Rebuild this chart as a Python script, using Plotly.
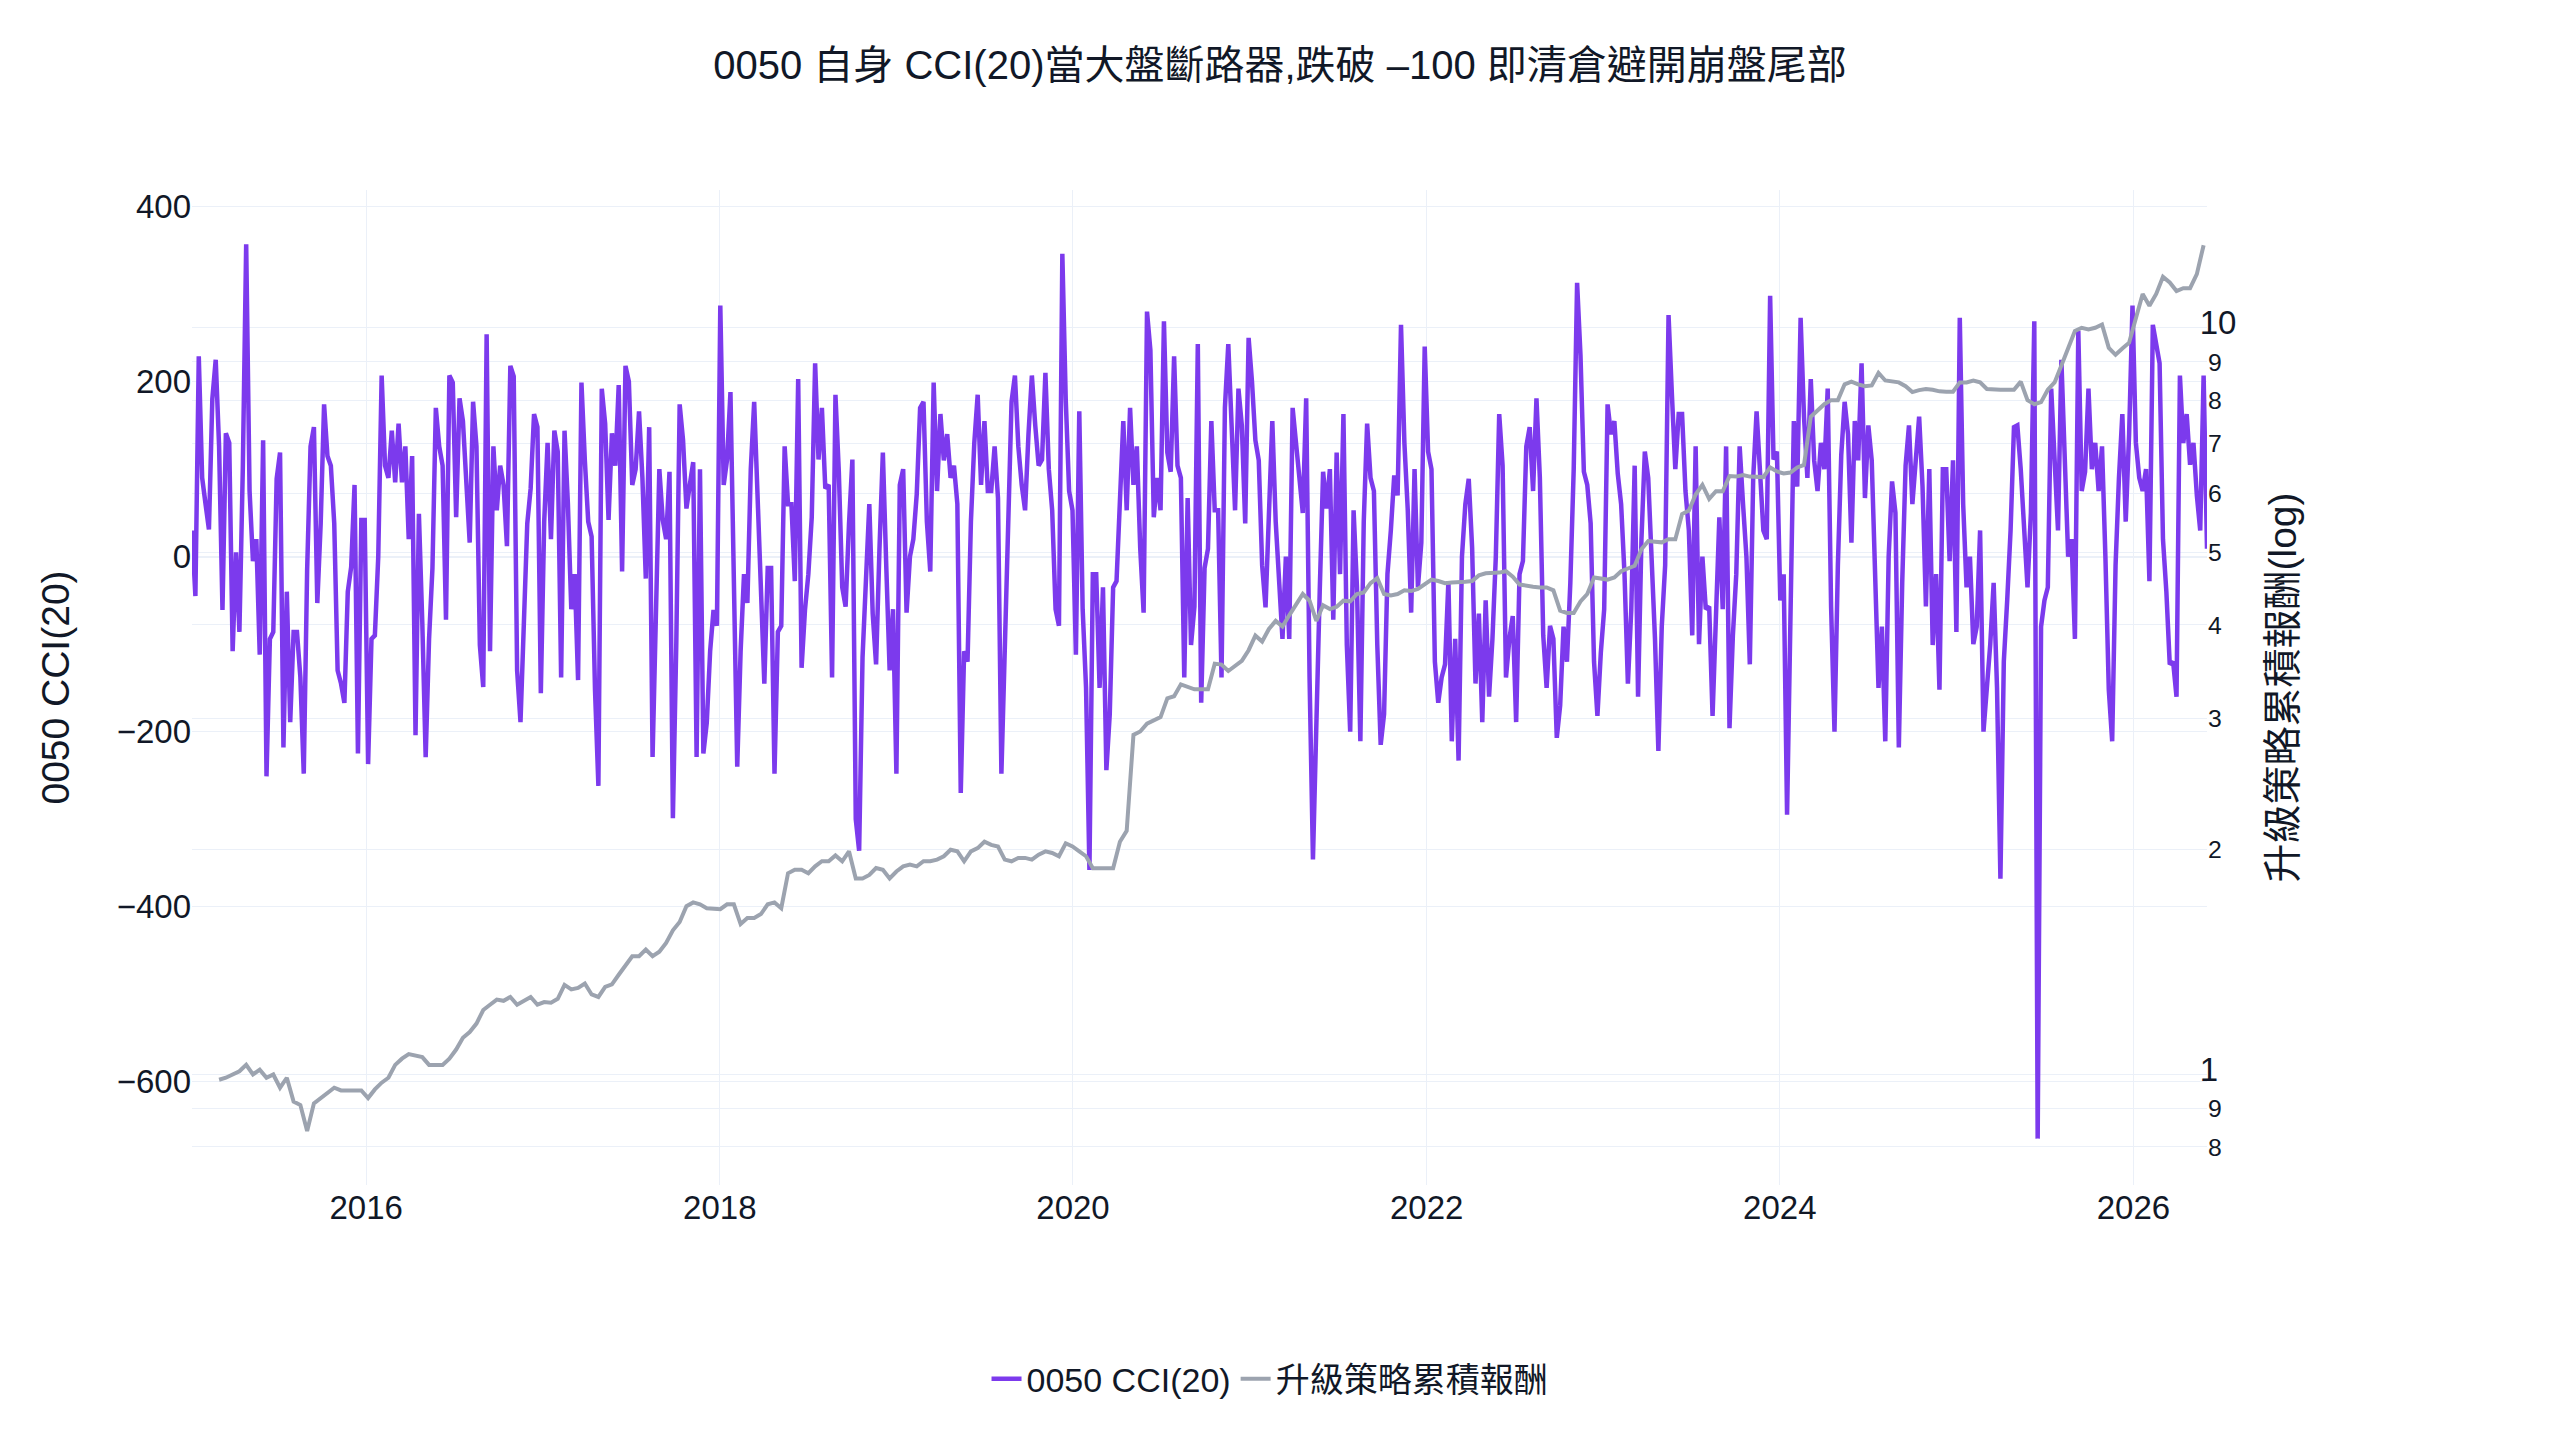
import pandas as pd
import plotly.graph_objects as go

# weekly samples
start_date = "2015-01-06"

cci = [
    30, -45, 229, 90, 60, 31, 180, 225, 126, -61,
    141, 130, -108, 5, -86, 100, 357, 75, -5, 20,
    -112, 133, -251, -94, -86, 89, 119, -218, -40, -189,
    -86, -86, -138, -248, -15, 126, 148, -53, 38, 174,
    115, 104, 38, -130, -145, -167, -40, -12, 82, -225,
    42, 42, -237, -94, -90, 0, 207, 104, 90, 144,
    85, 152, 85, 126, 20, 115, -204, 49, -75, -229,
    -94, -13, 170, 126, 104, -72, 207, 199, 45, 181,
    155, 82, 16, 177, 126, -101, -149, 254, -108, 126,
    53, 104, 82, 12, 218, 206, -130, -189, -65, 38,
    78, 163, 148, -156, 40, 130, 20, 144, 120, -138,
    144, 60, -60, -20, -141, 199, 110, 40, 23, -152,
    -262, 192, 152, 42, 141, 104, 196, -17, 218, 200,
    82, 100, 166, 90, -25, 148, -229, -70, 100, 42,
    20, 97, -299, -100, 174, 133, 55, 82, 108, -229,
    100, -225, -190, -108, -61, -79, 287, 82, 111, 188,
    -13, -240, -108, -20, -53, 100, 177, 75, -57, -145,
    -13, -13, -248, -86, -79, 126, 60, 60, -28, 203,
    -127, -61, -20, 45, 221, 111, 170, 78, 82, -138,
    185, 97, -35, -57, 37, 111, -300, -336, -115, -40,
    60, -65, -123, 9, 119, -10, -130, -60, -248, 82,
    100, -64, 0, 20, 71, 170, 177, 40, -17, 199,
    75, 163, 110, 140, 90, 104, 60, -270, -108, -120,
    40, 130, 185, 82, 155, 75, 75, 126, 67, -248,
    -108, -10, 177, 207, 126, 82, 53, 140, 207, 150,
    104, 111, 210, 100, 53, -60, -79, 346, 180, 75,
    53, -112, 166, -60, -150, -358, -20, -20, -150, -35,
    -244, -180, -35, -28, 78, 155, 53, 170, 82, 126,
    9, -64, 280, 236, 45, 90, 53, 269, 119, 97,
    229, 104, 90, -138, 67, -101, -57, 243, -167, -13,
    9, 155, 53, 53, -138, 170, 243, 133, 53, 192,
    150, 38, 250, 200, 133, 110, -10, -58, 60, 155,
    40, -20, -94, 0, -94, 170, 130, 80, 50, 181,
    -138, -346, -167, -40, 97, 55, 100, -72, 119, -20,
    163, -101, -200, 53, -35, -211, 40, 152, 90, 75,
    -101, -215, -180, -20, 30, 93, 70, 265, 130, 53,
    -64, 100, -35, 16, 240, 120, 100, -120, -167, -138,
    -123, -28, -211, -94, -233, 0, 60, 89, 10, -145,
    -65, -189, -50, -160, -94, 0, 163, 104, -138, -94,
    -68, -189, -20, -5, 126, 148, 75, 181, 90, -90,
    -150, -79, -94, -207, -170, -80, -120, -30, 100, 313,
    230, 97, 82, 38, -120, -182, -110, -60, 174, 140,
    155, 95, 60, -20, -145, -60, 104, -160, 20, 120,
    90, 0, -94, -222, -80, -10, 276, 185, 100, 163,
    163, 75, 30, -90, 126, -100, 0, -60, -57, -182,
    -50, 45, -60, 126, -196, -90, -20, 126, 60, 0,
    -123, 90, 166, 100, 30, 20, 298, 111, 120, -50,
    -20, -295, -40, 155, 80, 273, 160, 90, 203, 110,
    75, 130, 100, 192, -57, -200, -10, 116, 177, 140,
    16, 155, 110, 221, 67, 150, 110, -35, -150, -80,
    -211, 0, 86, 50, -218, -30, 104, 150, 60, 110,
    160, 80, -57, 100, -101, -20, -152, 100, 100, -5,
    110, -86, 273, 60, -35, 0, -100, -80, 30, -200,
    -150, -100, -30, -150, -368, -120, -50, 30, 148, 150,
    100, 30, -35, 50, 269, -665, -80, -50, -35, 192,
    100, 30, 225, 120, 0, 20, -94, 258, 75, 97,
    192, 100, 130, 75, 126, 0, -152, -211, -10, 90,
    163, 40, 140, 287, 130, 90, 75, 100, -28, 265,
    245, 221, 20, -40, -123, -120, -160, 207, 130, 163,
    105, 130, 70, 30, 207, 9,
]

# cumulative return of the strategy, every 2nd week starting at week 8
cum_ret = [
    0.984, 0.99, 1.0, 1.01, 1.03, 1.0, 1.015, 0.99, 1.0, 0.96,
    0.99, 0.92, 0.91, 0.84, 0.915, 0.93, 0.945, 0.96, 0.952, 0.952,
    0.952, 0.952, 0.93, 0.955, 0.975, 0.99, 1.03, 1.05, 1.065, 1.06,
    1.055, 1.03, 1.03, 1.03, 1.05, 1.08, 1.12, 1.14, 1.17, 1.22,
    1.24, 1.26, 1.255, 1.27, 1.24, 1.255, 1.27, 1.24, 1.25, 1.248,
    1.263, 1.318, 1.30, 1.306, 1.324, 1.28, 1.27, 1.31, 1.32, 1.36,
    1.40, 1.44, 1.44, 1.47, 1.44, 1.46, 1.50, 1.56, 1.60, 1.68,
    1.70, 1.69, 1.67, 1.665, 1.665, 1.69, 1.69, 1.59, 1.62, 1.62,
    1.64, 1.69, 1.70, 1.67, 1.86, 1.88, 1.88, 1.86, 1.90, 1.93,
    1.93, 1.965, 1.93, 1.99, 1.83, 1.83, 1.85, 1.89, 1.88, 1.83,
    1.87, 1.90, 1.91, 1.90, 1.93, 1.93, 1.94, 1.96, 2.00, 1.99,
    1.93, 1.99, 2.01, 2.05, 2.03, 2.02, 1.94, 1.93, 1.95, 1.95,
    1.94, 1.97, 1.99, 1.98, 1.96, 2.04, 2.02, 1.99, 1.96, 1.889,
    1.889, 1.889, 1.889, 2.05, 2.12, 2.85, 2.88, 2.95, 2.98, 3.01,
    3.19, 3.21, 3.33, 3.31, 3.28, 3.28, 3.28, 3.55, 3.54, 3.47,
    3.52, 3.58, 3.70, 3.87, 3.80, 3.95, 4.05, 3.98, 4.12, 4.25,
    4.40, 4.31, 4.05, 4.25, 4.20, 4.23, 4.31, 4.30, 4.40, 4.42,
    4.55, 4.62, 4.40, 4.38, 4.40, 4.45, 4.44, 4.47, 4.53, 4.60,
    4.58, 4.55, 4.56, 4.56, 4.57, 4.58, 4.66, 4.69, 4.69, 4.70,
    4.72, 4.64, 4.53, 4.51, 4.50, 4.49, 4.49, 4.45, 4.18, 4.15,
    4.15, 4.30, 4.40, 4.63, 4.62, 4.60, 4.63, 4.72, 4.76, 4.80,
    5.05, 5.18, 5.17, 5.16, 5.21, 5.21, 5.63, 5.69, 5.98, 6.16,
    5.90, 6.04, 6.04, 6.33, 6.32, 6.35, 6.32, 6.31, 6.31, 6.50,
    6.42, 6.38, 6.40, 6.50, 6.55, 7.6, 7.74, 7.90, 8.00, 8.00,
    8.40, 8.47, 8.40, 8.35, 8.37, 8.70, 8.50, 8.48, 8.45, 8.35,
    8.20, 8.25, 8.28, 8.26, 8.22, 8.21, 8.21, 8.45, 8.45, 8.50,
    8.45, 8.28, 8.26, 8.26, 8.26, 8.26, 8.47, 8.00, 7.90, 7.95,
    8.26, 8.45, 8.90, 9.38, 9.90, 10.0, 9.95, 10.0, 10.1, 9.4,
    9.2, 9.38, 9.55, 10.3, 11.1, 10.7, 11.1, 11.7, 11.5, 11.2,
    11.3, 11.3, 11.8, 12.9,
]

title = "0050 自身 CCI(20)當大盤斷路器,跌破 –100 即清倉避開崩盤尾部"
cci_name = "0050 CCI(20)"
ret_name = "升級策略累積報酬"

dates = pd.date_range(start_date, periods=len(cci), freq="7D")
ret_dates = dates[8::2][:len(cum_ret)]

font_family = "Liberation Sans, Noto Sans CJK TC, sans-serif"
ink = "#111827"

fig = go.Figure()
fig.add_trace(go.Scatter(x=dates, y=cci, name=cci_name, mode="lines",
                         line=dict(color="#7c3aed", width=4.5)))
fig.add_trace(go.Scatter(x=ret_dates, y=cum_ret, name=ret_name, mode="lines",
                         line=dict(color="#9ca3af", width=4), yaxis="y2"))

fig.update_layout(
    template="plotly_white",
    font=dict(family=font_family, size=33, color=ink),
    title=dict(text=title, x=0.5, xanchor="center", y=0.96, yanchor="middle",
               font=dict(size=40, color=ink)),
    margin=dict(l=184, r=345, t=182, b=247),
    xaxis=dict(dtick="M24", tick0="2016-01-01", tickformat="%Y"),
    yaxis=dict(title=dict(text=cci_name, font=dict(size=39), standoff=35),
               dtick=200, range=[-718, 419]),
    yaxis2=dict(title=dict(text="升級策略累積報酬(log)", font=dict(size=39), standoff=33),
                type="log", overlaying="y", side="right", dtick="D1",
                range=[-0.148, 1.1845]),
    legend=dict(orientation="h", x=0.535, xanchor="center",
                y=-0.195, yanchor="middle", font=dict(size=34)),
)

fig.write_html("out.html")
